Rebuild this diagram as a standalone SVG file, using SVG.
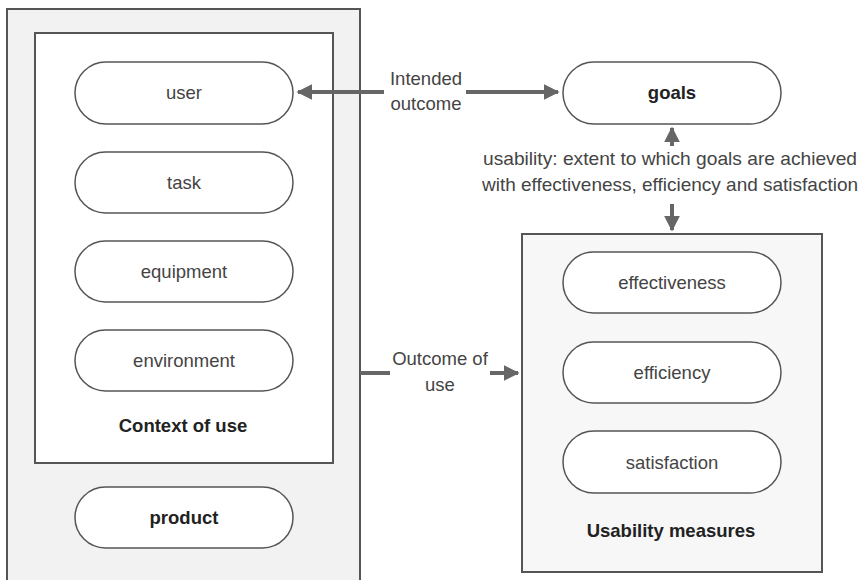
<svg xmlns="http://www.w3.org/2000/svg" width="865" height="580" viewBox="0 0 865 580">
<defs>
<style>
.pill{fill:#fff;stroke:#555;stroke-width:1.5}
.box{stroke:#555;stroke-width:2}
.t{font-family:"Liberation Sans",Arial,sans-serif;font-size:18.5px;fill:#444;text-anchor:middle}
.b{font-family:"Liberation Sans",Arial,sans-serif;font-size:18.5px;font-weight:bold;fill:#222;text-anchor:middle}
.c{stroke:#666;stroke-width:4;fill:none}
</style>
<marker id="ah" viewBox="0 0 10 10" refX="9" refY="5" markerWidth="4" markerHeight="4" orient="auto-start-reverse" markerUnits="strokeWidth">
<path d="M0,0 L10,5 L0,10 z" fill="#666"/>
</marker>
</defs>
<rect width="865" height="580" fill="#fff"/>
<g id="outer-left"><rect class="box" x="7" y="9" width="353" height="580" fill="#f2f2f2"/></g>
<g id="context"><rect class="box" x="35" y="33" width="298" height="430" fill="#fff"/>
<text class="b" x="183" y="432">Context of use</text></g>
<g id="measures"><rect class="box" x="522" y="234" width="300" height="338" fill="#f7f7f7"/>
<text class="b" x="671" y="537">Usability measures</text></g>
<g id="connectors">
<line class="c" x1="384" y1="92" x2="298" y2="92" marker-end="url(#ah)"/>
<line class="c" x1="466" y1="92" x2="558" y2="92" marker-end="url(#ah)"/>
<line class="c" x1="672" y1="146" x2="672" y2="128" marker-end="url(#ah)"/>
<line class="c" x1="672" y1="204" x2="672" y2="230" marker-end="url(#ah)"/>
<line class="c" x1="360" y1="373" x2="390" y2="373"/>
<line class="c" x1="490" y1="373" x2="518" y2="373" marker-end="url(#ah)"/>
</g>
<g id="user"><rect class="pill" x="75" y="62" width="218" height="62" rx="31"/><text class="t" x="184" y="99">user</text></g>
<g id="task"><rect class="pill" x="75" y="152" width="218" height="61" rx="30.5"/><text class="t" x="184" y="189">task</text></g>
<g id="equipment"><rect class="pill" x="75" y="241" width="218" height="61" rx="30.5"/><text class="t" x="184" y="278">equipment</text></g>
<g id="environment"><rect class="pill" x="75" y="330" width="218" height="61" rx="30.5"/><text class="t" x="184" y="367">environment</text></g>
<g id="product"><rect class="pill" x="75" y="487" width="218" height="61" rx="30.5"/><text class="b" x="184" y="524">product</text></g>
<g id="goals"><rect class="pill" x="563" y="62" width="218" height="62" rx="31"/><text class="b" x="672" y="99">goals</text></g>
<g id="effectiveness"><rect class="pill" x="563" y="252" width="218" height="61" rx="30.5"/><text class="t" x="672" y="289">effectiveness</text></g>
<g id="efficiency"><rect class="pill" x="563" y="342" width="218" height="61" rx="30.5"/><text class="t" x="672" y="379">efficiency</text></g>
<g id="satisfaction"><rect class="pill" x="563" y="431" width="218" height="62" rx="31"/><text class="t" x="672" y="469">satisfaction</text></g>
<g id="labels">
<text class="t" x="426" y="85">Intended</text>
<text class="t" x="426" y="110">outcome</text>
<text class="t" x="440" y="365">Outcome of</text>
<text class="t" x="440" y="391">use</text>
<text class="t" x="670" y="165" textLength="374" lengthAdjust="spacingAndGlyphs">usability: extent to which goals are achieved</text>
<text class="t" x="670" y="191" textLength="376" lengthAdjust="spacingAndGlyphs">with effectiveness, efficiency and satisfaction</text>
</g>
</svg>
